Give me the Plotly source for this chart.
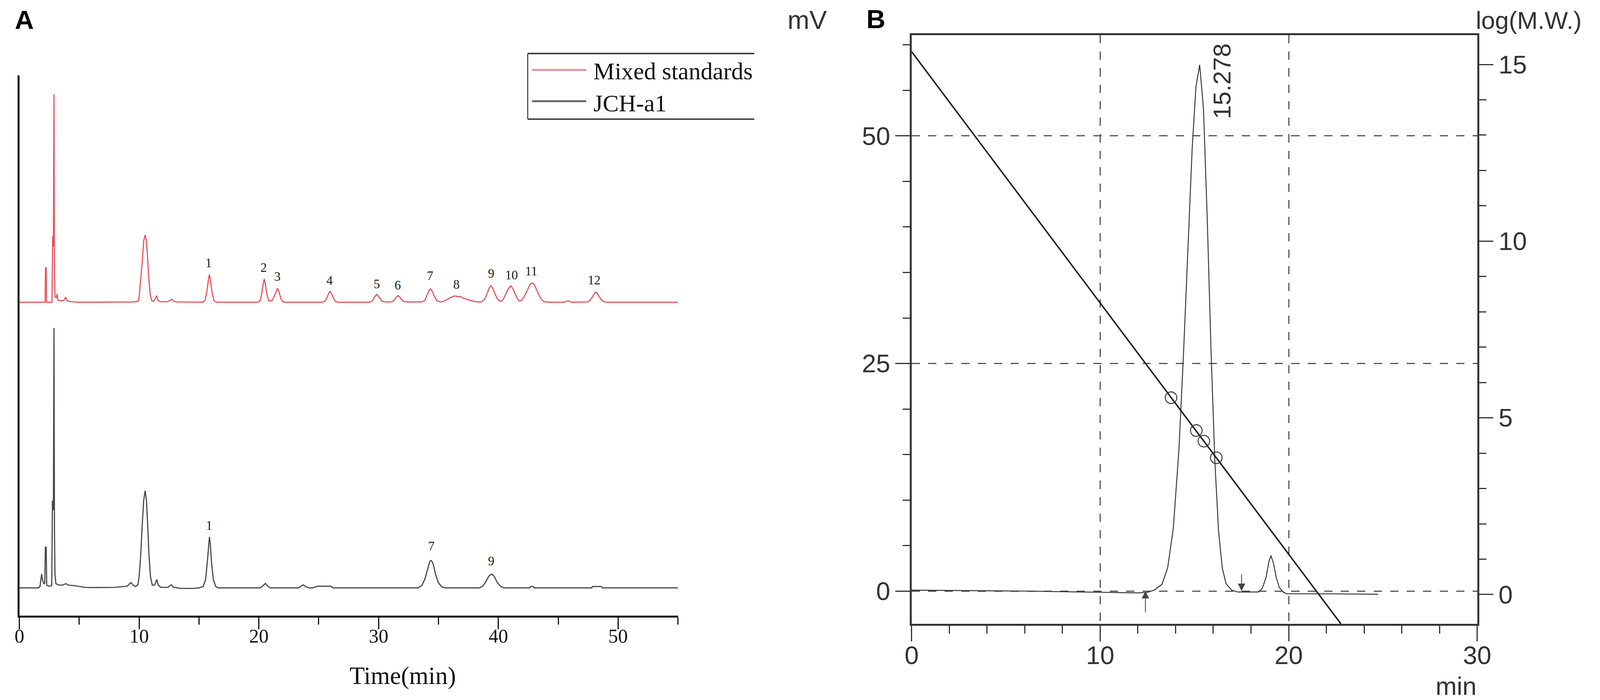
import plotly.graph_objects as go

# the page is photographed from a 4096x1792 css-px viewport; the reference is 4445x1792,
# so horizontal pixel sizes are scaled down and vertical ones kept
REF_W, REF_H = 4445, 1792
W, H = 4096, 1792
SX = W / REF_W
SY = H / REF_H
SF = (SX * SY) ** 0.5

# ---- panel A: HPLC traces (min, mV); mixed standards drawn stacked above the sample
mix_time = [0.0, 2.15, 2.18, 2.24, 2.27, 2.72, 2.78, 2.84, 2.89, 2.93, 2.98, 3.08, 3.15, 3.22, 3.5, 3.7, 3.86, 4.0,
            4.3, 5.0, 9.5, 9.9, 10.0, 10.12, 10.25, 10.38, 10.5, 10.6, 10.68, 10.8, 10.92, 11.05, 11.2, 11.35,
            11.45, 11.58, 11.8, 12.4, 12.6, 12.75, 12.9, 13.2,
            15.3, 15.5, 15.65, 15.77, 15.87, 15.97, 16.09, 16.25, 16.45,
            19.9, 20.1, 20.23, 20.35, 20.45, 20.55, 20.67, 20.82, 20.95, 21.1, 21.25, 21.43, 21.55, 21.67, 21.85,
            22.0, 22.2,
            25.3, 25.55, 25.72, 25.82, 25.94, 26.06, 26.18, 26.35, 26.6,
            29.2, 29.45, 29.62, 29.73, 29.85, 29.97, 30.1, 30.3, 30.55,
            31.0, 31.23, 31.4, 31.52, 31.63, 31.75, 31.88, 32.1, 32.4,
            33.6, 33.85, 34.05, 34.2, 34.33, 34.46, 34.62, 34.85, 35.1,
            35.2, 35.5, 35.8, 36.1, 36.3, 36.45, 36.6, 36.8, 37.0, 37.2, 37.45, 37.7, 38.0, 38.3, 38.5,
            38.6, 38.85, 39.05, 39.22, 39.38, 39.54, 39.72, 39.95, 40.2,
            40.4, 40.62, 40.85, 41.04, 41.2, 41.4, 41.62, 41.8,
            42.0, 42.25, 42.5, 42.66, 42.82, 42.98, 43.15, 43.4, 43.65, 43.9,
            44.5, 45.5, 45.7, 45.95, 46.1, 46.8,
            47.4, 47.65, 47.85, 48.0, 48.13, 48.27, 48.45, 48.7, 48.95, 49.2, 55.0]
mix_signal = [0.0, 0.0, 12.4, 12.4, 0.0, 0.0, 23.8, 20.0, 75.0, 10.0, 2.0, 1.5, 3.0, 0.8, 0.5, 0.6, 1.8, 0.5,
              0.2, 0.0, 0.1, 0.3, 2.0, 7.5, 14.0, 22.0, 24.3, 22.5, 18.0, 9.0, 3.0, 0.6, 0.3, 1.2,
              2.4, 0.6, 0.2, 0.2, 0.8, 1.0, 0.3, 0.1,
              0.0, 0.6, 3.6, 7.6, 10.0, 7.6, 3.6, 0.6, 0.0,
              0.0, 0.5, 2.9, 6.4, 8.36, 6.4, 2.9, 0.6, 0.4, 0.6, 1.8, 3.9, 5.07, 3.9, 1.2,
              0.2, 0.0,
              0.0, 0.5, 2.0, 3.1, 3.9, 3.1, 2.0, 0.5, 0.0,
              0.0, 0.4, 1.5, 2.3, 2.8, 2.3, 1.4, 0.4, 0.1,
              0.1, 0.4, 1.3, 2.0, 2.35, 2.0, 1.2, 0.3, 0.1,
              0.1, 0.6, 2.6, 4.1, 4.84, 4.1, 2.5, 0.6, 0.2,
              0.1, 0.5, 1.2, 1.9, 2.2, 2.25, 2.0, 2.1, 1.6, 1.3, 0.9, 0.6, 0.3, 0.1, 0.1,
              0.2, 1.0, 3.0, 5.0, 5.9, 5.0, 3.0, 1.0, 0.3,
              1.0, 3.0, 5.0, 5.9, 5.0, 3.0, 1.0, 0.4,
              0.9, 2.8, 5.2, 6.5, 6.95, 6.5, 5.0, 2.5, 0.7, 0.1,
              0.0, 0.0, 0.4, 0.4, 0.0, 0.1,
              0.1, 0.6, 1.9, 3.1, 3.66, 3.1, 1.8, 0.4, 0.05, 0.0, 0.0]
mix_offset = 103

jch_time = [0.0, 1.6, 1.72, 1.8, 1.86, 1.92, 2.05, 2.12, 2.17, 2.24, 2.28, 2.45, 2.7, 2.76, 2.84, 2.89, 2.93,
            2.97, 3.05, 3.3, 3.6, 3.88, 4.1, 4.6, 5.0, 5.5, 6.0, 8.0, 9.0, 9.2, 9.33, 9.5, 9.7, 9.9, 10.0, 10.12,
            10.25, 10.38, 10.5, 10.6, 10.7, 10.82, 10.95, 11.1, 11.3, 11.47, 11.6, 11.8, 12.4, 12.6, 12.7, 12.85,
            13.2, 13.5, 14.5, 15.0, 15.35, 15.55, 15.7, 15.8, 15.87, 15.95, 16.05, 16.2, 16.4, 16.6,
            20.1, 20.35, 20.54, 20.75, 20.95, 23.3, 23.5, 23.7, 23.9, 24.2, 24.5, 24.9, 26.0, 26.2,
            33.3, 33.6, 33.85, 34.1, 34.28, 34.4, 34.55, 34.75, 35.0, 35.3, 35.6,
            38.4, 38.7, 38.95, 39.2, 39.45, 39.65, 39.9, 40.2, 40.5,
            42.6, 42.7, 42.9, 43.0, 47.8, 47.85, 48.6, 48.7, 55.0]
jch_signal = [0.0, 0.0, 0.5, 3.5, 5.0, 3.0, 1.4, 1.8, 14.7, 14.7, 1.0, 0.6, 0.8, 31.5, 28.0, 93.7, 20.0,
              5.0, 1.5, 1.0, 1.0, 1.5, 1.0, 0.8, 0.5, 0.2, 0.1, 0.2, 0.6, 1.5, 1.9, 1.0, 0.5, 1.2, 4.0, 11.0,
              22.0, 31.5, 35.0, 32.0, 24.0, 12.0, 4.0, 1.0, 1.0, 3.0, 1.0, 0.2, 0.2, 0.9, 1.1, 0.3,
              0.0, -0.2, -0.2, 0.0, 0.5, 3.0, 9.5, 15.5, 18.4, 15.5, 9.0, 3.0, 0.5, 0.0,
              0.0, 0.8, 1.6, 0.6, 0.0, 0.0, 0.6, 1.1, 0.5, 0.0, 0.0, 0.6, 0.6, 0.0,
              0.0, 0.8, 3.0, 7.0, 9.6, 9.9, 8.8, 5.0, 1.8, 0.3, 0.0,
              0.0, 0.6, 2.2, 4.2, 5.0, 4.2, 2.0, 0.5, 0.0,
              0.0, 0.5, 0.5, 0.0, 0.0, 0.5, 0.5, 0.0, 0.0]

mix_labels = ['1', '2', '3', '4', '5', '6', '7', '8', '9', '10', '11', '12']
mix_label_x = [15.8, 20.4, 21.55, 25.9, 29.85, 31.6, 34.3, 36.5, 39.4, 41.1, 42.75, 48.0]
mix_label_y = [13.8, 12.1, 8.8, 7.4, 6.2, 5.8, 9.1, 6.0, 10.0, 9.4, 10.9, 7.65]
jch_labels = ['1', '7', '9']
jch_label_x = [15.85, 34.4, 39.4]
jch_label_y = [22.1, 14.7, 9.3]

# ---- panel B: GPC trace (min, mV) and calibration curve (log M.W.)
gpc_time = [0.0, 3.0, 6.0, 9.0, 12.0, 12.48, 12.88, 13.28, 13.58, 13.88, 14.18, 14.43, 14.68, 14.88, 15.08,
            15.278, 15.48, 15.68, 15.88, 16.08, 16.28, 16.48, 16.68, 16.98, 17.3, 17.8, 18.4, 18.6, 18.8,
            18.95, 19.06, 19.2, 19.35, 19.5, 19.7, 19.9, 22.0, 24.74]
gpc_signal = [0.1, 0.05, 0.0, -0.1, -0.2, -0.15, 0.11, 0.76, 2.55, 6.9, 15.6, 26.5, 39.2, 48.6, 55.4,
              57.8, 53.0, 40.9, 26.5, 14.4, 6.6, 2.5, 0.8, 0.1, -0.1, -0.1, -0.1, 0.3, 1.5,
              3.2, 3.9, 3.0, 1.4, 0.4, -0.1, -0.3, -0.3, -0.35]
calib_time = [0.0, 22.77]
calib_logmw = [15.36, -0.83]
std_time = [13.76, 15.10, 15.50, 16.16]
std_logmw = [5.57, 4.64, 4.34, 3.87]
peak_rt = '15.278'
peak_label_pos = [16.45, 56.0]
integ_start, integ_end = 12.4, 17.5

RED = '#e8505c'
GREY = '#444444'
serif = 'Liberation Serif'
sans = 'Liberation Sans'


def sx(v):
    return round(v * SX, 2)


def sy(v):
    return round(v * SY, 2)


def sf(v):
    return round(v * SF, 2)


def px(x):
    return x / REF_W


def py(y):
    return 1 - y / REF_H


fig = go.Figure()

fig.add_trace(go.Scatter(x=mix_time, y=[v + mix_offset for v in mix_signal], mode='lines',
                         line=dict(color=RED, width=sf(3)), name='Mixed standards'))
fig.add_trace(go.Scatter(x=jch_time, y=jch_signal, mode='lines',
                         line=dict(color=GREY, width=sf(3)), name='JCH-a1'))
fig.add_trace(go.Scatter(x=mix_label_x, y=[v + mix_offset for v in mix_label_y], mode='text',
                         text=mix_labels, textfont=dict(family=serif, size=sf(34), color='#1a1a1a'),
                         cliponaxis=False))
fig.add_trace(go.Scatter(x=jch_label_x, y=jch_label_y, mode='text', text=jch_labels,
                         textfont=dict(family=serif, size=sf(34), color='#1a1a1a'), cliponaxis=False))

fig.add_trace(go.Scatter(x=gpc_time, y=gpc_signal, mode='lines', xaxis='x2', yaxis='y2',
                         line=dict(color='#333333', width=sf(2.5))))
fig.add_trace(go.Scatter(x=calib_time, y=calib_logmw, mode='lines', xaxis='x2', yaxis='y3',
                         line=dict(color='#222222', width=sf(4))))
fig.add_trace(go.Scatter(x=std_time, y=std_logmw, mode='markers', xaxis='x2', yaxis='y3',
                         marker=dict(symbol='circle-open', size=sf(31), color='#333333', line=dict(width=sf(2.5)))))

ann = [
    # rotated retention time label
    dict(x=peak_label_pos[0], y=peak_label_pos[1], xref='x2', yref='y2', text=peak_rt, textangle=-90,
         showarrow=False, font=dict(family=sans, size=sf(66), color='#333333')),
    # integration start / end arrows
    dict(x=integ_start, y=0, xref='x2', yref='y2', ax=integ_start, ay=-2.4, axref='x2', ayref='y2',
         text='', showarrow=True, arrowhead=2, arrowsize=1.8, arrowwidth=sf(2.2), arrowcolor='#444444'),
    dict(x=integ_end, y=0, xref='x2', yref='y2', ax=integ_end, ay=1.9, axref='x2', ayref='y2',
         text='', showarrow=True, arrowhead=2, arrowsize=1.8, arrowwidth=sf(2.2), arrowcolor='#444444'),
]
paper_text = [
    dict(x=px(11), y=py(42), text='<b>A</b>', xanchor='left', font=dict(family=sans, size=sf(70), color='black')),
    dict(x=px(2408), y=py(40), text='<b>B</b>', xanchor='left', font=dict(family=sans, size=sf(70), color='black')),
    dict(x=px(2186), y=py(42), text='mV', xanchor='left', font=dict(family=sans, size=sf(70), color='#333333')),
    dict(x=px(4124), y=py(44), text='log(M.W.)', xanchor='left', font=dict(family=sans, size=sf(66), color='#333333')),
    dict(x=px(4130), y=py(1748), text='min', xanchor='right', font=dict(family=sans, size=sf(68), color='#333333')),
    dict(x=px(953), y=py(1722), text='Time(min)', font=dict(family=serif, size=sf(66), color='#111111')),
    dict(x=px(1640), y=py(174), text='Mixed standards', xanchor='left', font=dict(family=serif, size=sf(64), color='#111111')),
    dict(x=px(1640), y=py(256), text='JCH-a1', xanchor='left', font=dict(family=serif, size=sf(64), color='#111111')),
]
for a in paper_text:
    a.update(xref='paper', yref='paper', showarrow=False, yanchor='middle')
ann += paper_text

# hand-drawn legend frame (open on the right, as in the source figure) and line samples
shapes = [
    dict(type='line', xref='paper', yref='paper', x0=px(1457), x1=px(2095), y0=py(129), y1=py(129),
         line=dict(color='#444444', width=sy(4))),
    dict(type='line', xref='paper', yref='paper', x0=px(1457), x1=px(2095), y0=py(297), y1=py(297),
         line=dict(color='#444444', width=sy(4))),
    dict(type='line', xref='paper', yref='paper', x0=px(1457), x1=px(1457), y0=py(129), y1=py(297),
         line=dict(color='#444444', width=sx(3))),
    dict(type='line', xref='paper', yref='paper', x0=px(1469), x1=px(1622), y0=py(171), y1=py(171),
         line=dict(color='#f28b96', width=sy(5))),
    dict(type='line', xref='paper', yref='paper', x0=px(1469), x1=px(1622), y0=py(251), y1=py(251),
         line=dict(color='#666666', width=sy(5))),
]

tick_a = dict(family=serif, size=sf(52), color='#111111')
tick_b = dict(family=sans, size=sf(68), color='#333333')
dash = f'{sf(22)}px,{sf(22)}px'

fig.update_layout(
    width=W, height=H, autosize=False,
    margin=dict(l=0, r=0, t=0, b=0),
    paper_bgcolor='white', plot_bgcolor='white',
    showlegend=False,
    annotations=ann, shapes=shapes,
    xaxis=dict(domain=[px(26), px(1880)], anchor='y', range=[0, 55], showline=True, linewidth=sy(5),
               linecolor='#111111', showgrid=False, zeroline=False, ticks='outside', ticklen=sy(30),
               tickwidth=sx(3), tickcolor='#111111', tickvals=[0, 10, 20, 30, 40, 50], tickfont=tick_a,
               ticklabelstandoff=-26,
               minor=dict(dtick=5, tick0=0, ticks='outside', ticklen=sy(18), tickwidth=sx(3), tickcolor='#111111')),
    yaxis=dict(domain=[py(1568), py(185)], anchor='x', range=[-10, 184.8], showline=True, linewidth=sx(5),
               linecolor='#111111', showgrid=False, zeroline=False, showticklabels=False, ticks=''),
    xaxis2=dict(domain=[px(2538), px(4130)], anchor='y2', range=[0, 30], showline=True, linewidth=sy(5),
                linecolor='#333333', mirror=True, zeroline=False, dtick=10, tick0=0, ticks='outside',
                ticklen=sy(40), tickwidth=sx(3), tickcolor='#333333', tickfont=tick_b,
                ticklabelstandoff=-20,
                showgrid=True, gridcolor='#555555', gridwidth=sx(3), griddash=dash,
                minor=dict(dtick=2, tick0=0, ticks='outside', ticklen=sy(20), tickwidth=sx(3), tickcolor='#333333',
                           showgrid=False)),
    yaxis2=dict(domain=[py(1589), py(82)], anchor='x2', range=[-3.6, 61.07], showline=True, linewidth=sx(5),
                linecolor='#333333', zeroline=False, dtick=25, tick0=0, ticks='outside', ticklen=sx(40),
                tickwidth=sy(3), tickcolor='#333333', tickfont=tick_b,
                showgrid=True, gridcolor='#555555', gridwidth=sy(3), griddash=dash,
                minor=dict(dtick=5, tick0=0, ticks='outside', ticklen=sx(20), tickwidth=sy(3), tickcolor='#333333',
                           showgrid=False)),
    yaxis3=dict(overlaying='y2', side='right', anchor='x2', range=[-0.83, 15.83], showline=True, linewidth=sx(5),
                linecolor='#333333', zeroline=False, showgrid=False, dtick=5, tick0=0, ticks='outside',
                ticklen=sx(40), tickwidth=sy(3), tickcolor='#333333', tickfont=tick_b,
                minor=dict(dtick=1, tick0=0, ticks='outside', ticklen=sx(20), tickwidth=sy(3), tickcolor='#333333')),
)

fig.write_html("out.html")
